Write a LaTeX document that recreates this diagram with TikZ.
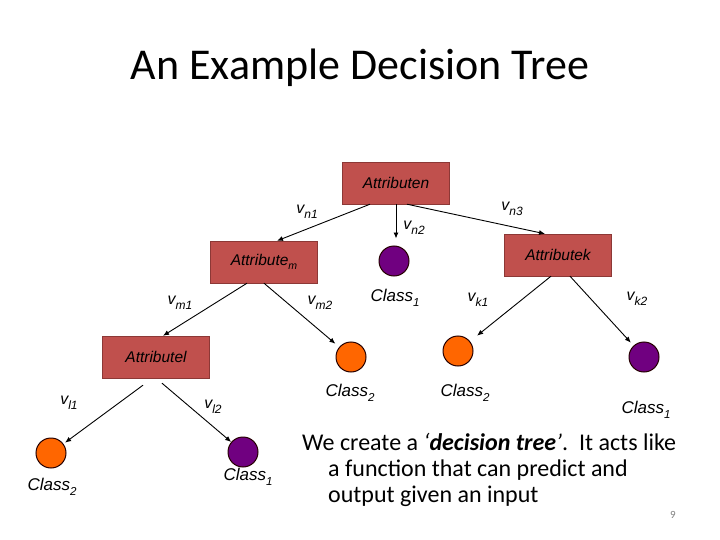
\documentclass[tikz,border=0pt]{standalone}
\usepackage{fontspec}
\usepackage{graphicx}
\setmainfont{Carlito}
\newfontfamily\arialfont{Liberation Sans}
\usetikzlibrary{arrows.meta}

\definecolor{boxred}{RGB}{192,80,77}
\definecolor{boxedge}{RGB}{140,56,54}
\definecolor{leafpurple}{RGB}{112,0,128}
\definecolor{leaforange}{RGB}{255,102,0}

% italic label with a small, low subscript
\newcommand{\lbl}[3][0.68]{\textit{#2}\raisebox{-0.55ex}{\scalebox{#1}{\textit{#3}}}}

\tikzset{
  attrbox/.style={draw=boxedge, fill=boxred, minimum width=107pt, minimum height=42pt,
    inner sep=0pt, font=\arialfont\itshape\fontsize{15.5}{18}\selectfont},
  leaf/.style={circle, draw=black!85!red, line width=1pt, minimum size=30pt, inner sep=0pt},
  classtext/.style={font=\arialfont\itshape\fontsize{17}{20}\selectfont},
  edgetext/.style={font=\arialfont\itshape\fontsize{16}{19}\selectfont},
  branch/.style={-{Latex[length=6pt,width=5pt]}, line width=0.9pt},
}

\begin{document}
\begin{tikzpicture}[x=1pt, y=-1pt]
    \useasboundingbox (0,0) rectangle (720,540);

    % Title
    \node (title) at (360,68) {\fontsize{44}{52}\selectfont An Example Decision Tree};

    % Attribute boxes
    \node[attrbox] (attrn) at (396,183) {Attributen};
    \node[attrbox] (attrm) at (264,262) {Attribute\raisebox{-0.55ex}{\scalebox{0.68}{m}}};
    \node[attrbox] (attrk) at (558,255) {Attributek};
    \node[attrbox] (attrl) at (156,357) {Attributel};

    % Leaves
    \node[leaf, fill=leafpurple] (leafn2) at (394,261) {};
    \node[leaf, fill=leaforange] (leafm2) at (351,357) {};
    \node[leaf, fill=leaforange] (leafk1) at (458,351) {};
    \node[leaf, fill=leafpurple] (leafk2) at (644,357) {};
    \node[leaf, fill=leaforange] (leafl1) at (51,453) {};
    \node[leaf, fill=leafpurple] (leafl2) at (243,452) {};

    % Branches
    \draw[branch] ([xshift=-26pt]attrn.south) -- ([xshift=13pt]attrm.north);
    \draw[branch] (attrn.south) -- ([yshift=7pt]attrn.south |- leafn2.north);
    \draw[branch] ([xshift=11pt]attrn.south) -- ([xshift=-13pt]attrk.north);
    \draw[branch] ([xshift=-17pt]attrm.south) -- ([xshift=7pt]attrl.north);
    \draw[branch, shorten >=5pt] (attrm.south) -- (leafm2);
    \draw[branch, shorten >=9pt] ([xshift=-7pt]attrk.south) -- (leafk1);
    \draw[branch, shorten >=4pt] ([xshift=12pt]attrk.south) -- (leafk2);
    \draw[branch, shorten >=2pt] ([xshift=-13pt,yshift=-7pt]attrl.south) -- (leafl1);
    \draw[branch] ([xshift=6pt,yshift=-5pt]attrl.south) -- (leafl2);

    % Branch values
    \node[edgetext] (vn1) at (307,212) {\lbl[0.75]{v}{n1}};
    \node[edgetext] (vn2) at (414,228) {\lbl[0.75]{v}{n2}};
    \node[edgetext] (vn3) at (512,209) {\lbl[0.75]{v}{n3}};
    \node[edgetext] (vm1) at (180,303) {\lbl[0.75]{v}{m1}};
    \node[edgetext] (vm2) at (320,303) {\lbl[0.75]{v}{m2}};
    \node[edgetext] (vk1) at (478,300) {\lbl[0.75]{v}{k1}};
    \node[edgetext] (vk2) at (637,299) {\lbl[0.75]{v}{k2}};
    \node[edgetext] (vl1) at (69,403) {\lbl[0.75]{v}{l1}};
    \node[edgetext] (vl2) at (213,407) {\lbl[0.75]{v}{l2}};

    % Class labels
    \node[classtext] (cn2) at (395,298) {\lbl{Class}{1}};
    \node[classtext] (cm2) at (350,393) {\lbl{Class}{2}};
    \node[classtext] (ck1) at (465,393) {\lbl{Class}{2}};
    \node[classtext] (ck2) at (646,410) {\lbl{Class}{1}};
    \node[classtext] (cl1) at (52,487) {\lbl{Class}{2}};
    \node[classtext] (cl2) at (248,477) {\lbl{Class}{1}};

    % Caption text
    \node[anchor=north west, align=left, inner sep=0pt, font=\fontsize{24}{26}\selectfont] (caption) at (302,433)
      {We create a \textit{‘\textbf{decision tree}’}.\ \ It acts like\\
       \hspace*{26pt}a function that can predict and\\
       \hspace*{26pt}output given an input};

    % Slide number
    \node[text=gray, font=\fontsize{11}{13}\selectfont] (pagenum) at (673,515) {9};
\end{tikzpicture}
\end{document}
